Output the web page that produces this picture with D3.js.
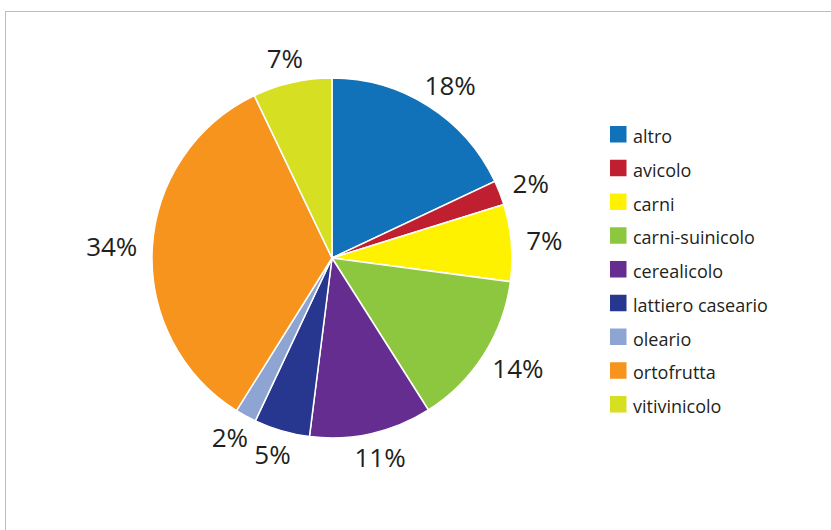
<!DOCTYPE html>
<html><head><meta charset="utf-8">
<script src="https://cdn.jsdelivr.net/npm/d3@7/dist/d3.min.js"></script>
<style>body{margin:0;background:#fff}svg{display:block}</style>
</head><body><svg id="c" width="831" height="530"></svg>
<script>
const categories = ["altro","avicolo","carni","carni-suinicolo","cerealicolo","lattiero caseario","oleario","ortofrutta","vitivinicolo"];
const values = [18, 2.2, 6.9, 13.9, 11, 5, 1.9, 34, 7.1];
const colors = ["#1172b9","#c01f2f","#fff200","#8dc63f","#662d91","#27368f","#8ea5d3","#f7941d","#d7df23"];

const svg = d3.select("#c");
const font = "'Open Sans', 'DejaVu Sans', sans-serif";
svg.append("rect").attr("x",5.5).attr("y",11.5).attr("width",900).attr("height",600)
  .attr("fill","none").attr("stroke","#bcbcbc").attr("stroke-width",1);

const cx = 332, cy = 258, R = 180;
const data = categories.map((c,i)=>({cat:c, v:values[i], col:colors[i]}));
const pie = d3.pie().value(d=>d.v).sort(null);
const arcs = pie(data);
const arc = d3.arc().innerRadius(0).outerRadius(R);
const g = svg.append("g").attr("transform",`translate(${cx},${cy})`);
g.selectAll("path").data(arcs).join("path")
  .attr("d",arc).attr("fill",d=>d.data.col).attr("stroke","#fff").attr("stroke-width",1.5);

const pad = 15, capH = 19;
g.selectAll("text.lbl").data(arcs).join("text").attr("class","lbl")
  .attr("font-family",font).attr("font-size",26).attr("fill","#231f20")
  .attr("text-anchor","middle")
  .text(d=>Math.round(d.data.v)+"%")
  .each(function(d){
    const w = this.getComputedTextLength();
    const a = (d.startAngle+d.endAngle)/2;
    const ux = Math.sin(a), uy = -Math.cos(a);
    const x = (R+pad)*ux + w/2*ux;
    const y = (R+pad)*uy + capH/2*uy + capH/2;
    d3.select(this).attr("x",x).attr("y",y);
  });

const leg = svg.append("g").attr("transform","translate(610,126)");
const step = 33.75;
const items = leg.selectAll("g").data(data).join("g").attr("transform",(d,i)=>`translate(0,${i*step})`);
items.append("rect").attr("width",16.5).attr("height",16.5).attr("fill",d=>d.col);
items.append("text").attr("x",23).attr("y",17).attr("font-family",font).attr("font-size",18)
  .attr("fill","#231f20").text(d=>d.cat);
</script></body></html>
